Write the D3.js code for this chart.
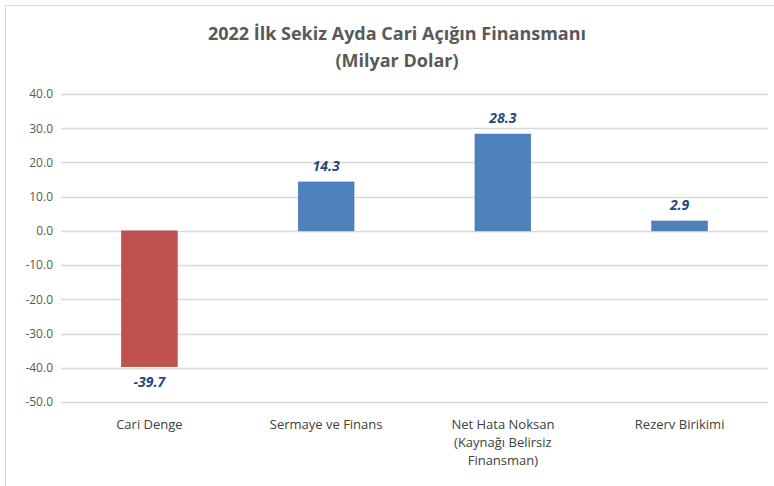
<!DOCTYPE html>
<html>
<head>
<meta charset="utf-8">
<script src="https://cdn.jsdelivr.net/npm/d3@7"></script>
<style>
  body { margin: 0; background: #fff; }
  text { font-family: "Open Sans", "Noto Sans", sans-serif; }
</style>
</head>
<body>
<div id="chart"></div>
<script>
// chart data
var categories = ["Cari Denge", "Sermaye ve Finans", "Net Hata Noksan (Kaynağı Belirsiz Finansman)", "Rezerv Birikimi"];
var catLines = [["Cari Denge"], ["Sermaye ve Finans"], ["Net Hata Noksan", "(Kaynağı Belirsiz", "Finansman)"], ["Rezerv Birikimi"]];
var values = [-39.7, 14.3, 28.3, 2.9];
var yTicks = [40, 30, 20, 10, 0, -10, -20, -30, -40, -50];
var titleLines = ["2022 İlk Sekiz Ayda Cari Açığın Finansmanı", "(Milyar Dolar)"];

var W = 774, H = 486;
var margin = {top: 94, left: 61, right: 6, bot: 84};

var svg = d3.select("#chart").append("svg")
    .attr("width", W)
    .attr("height", H);

// outer frame
svg.append("rect")
    .attr("x", 5.5).attr("y", 5.5)
    .attr("width", W - 5).attr("height", H - 5)
    .attr("fill", "#fff")
    .attr("stroke", "#d9d9d9");

var x = d3.scaleBand()
    .domain(categories)
    .range([margin.left, W - margin.right])
    .paddingInner(0.684)
    .paddingOuter(0.342);

var y = d3.scaleLinear()
    .domain([-50, 40])
    .range([H - margin.bot, margin.top]);

// grid
svg.append("g")
    .selectAll("line")
    .data(yTicks)
    .join("line")
    .attr("x1", margin.left)
    .attr("x2", W - margin.right)
    .attr("y1", function(d) { return Math.round(y(d)) + 0.5; })
    .attr("y2", function(d) { return Math.round(y(d)) + 0.5; })
    .attr("stroke", "#d9d9d9")
    .attr("stroke-width", 1.5);

// y axis labels
var yAxis = d3.axisLeft(y)
    .tickValues(yTicks)
    .tickFormat(d3.format(".1f"))
    .tickSize(0)
    .tickPadding(8);
var ya = svg.append("g")
    .attr("transform", "translate(" + margin.left + ",0)")
    .call(yAxis);
ya.select(".domain").remove();
ya.selectAll("text")
    .attr("fill", "#595959")
    .style("font-size", "12px")
    .text(function(d) { return d3.format(".1f")(d).replace("−", "-"); });

// bars
svg.append("g")
    .selectAll("rect")
    .data(values)
    .join("rect")
    .attr("x", function(d, i) { return x(categories[i]); })
    .attr("width", x.bandwidth())
    .attr("y", function(d) { return y(Math.max(0, d)); })
    .attr("height", function(d) { return Math.abs(y(d) - y(0)); })
    .attr("fill", function(d) { return d < 0 ? "#c0504d" : "#4f81bd"; })
    .attr("stroke", function(d) { return d < 0 ? "#a4403d" : "#4172ad"; })
    .attr("stroke-width", 0.5);

// value labels
svg.append("g")
    .selectAll("text")
    .data(values)
    .join("text")
    .attr("x", function(d, i) { return x(categories[i]) + x.bandwidth() / 2; })
    .attr("y", function(d) { return d < 0 ? y(d) + 20 : y(d) - 11; })
    .attr("text-anchor", "middle")
    .attr("fill", "#1f497d")
    .style("font-size", "14px")
    .style("font-weight", "bold")
    .style("font-style", "italic")
    .text(function(d) { return d.toFixed(1); });

// category labels
var cg = svg.append("g")
    .selectAll("text")
    .data(catLines)
    .join("text")
    .attr("text-anchor", "middle")
    .attr("fill", "#404040")
    .style("font-size", "13px")
    .attr("transform", function(d, i) {
        return "translate(" + (x(categories[i]) + x.bandwidth() / 2) + "," + (y(-50) + 27) + ")";
    });
cg.selectAll("tspan")
    .data(function(d) { return d; })
    .join("tspan")
    .attr("x", 0)
    .attr("dy", function(d, i) { return i == 0 ? 0 : 18; })
    .text(function(d) { return d; });

// title
svg.append("g")
    .selectAll("text")
    .data(titleLines)
    .join("text")
    .attr("x", 397)
    .attr("y", function(d, i) { return 40 + i * 27; })
    .attr("text-anchor", "middle")
    .attr("fill", "#595959")
    .style("font-size", "18px")
    .style("font-weight", "bold")
    .text(function(d) { return d; });
</script>
</body>
</html>
